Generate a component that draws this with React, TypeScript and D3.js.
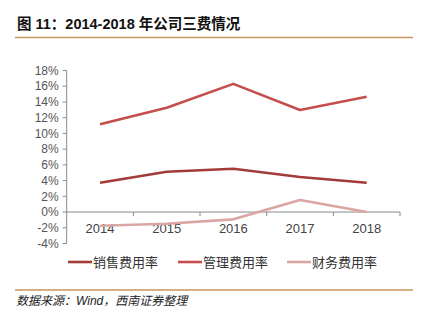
import React from "react";
import * as d3 from "d3";

const categories = ["2014", "2015", "2016", "2017", "2018"];
const seriesNames = ["销售费用率", "管理费用率", "财务费用率"];
const salesRate = [3.73, 5.13, 5.5, 4.45, 3.73];
const adminRate = [11.16, 13.27, 16.3, 12.98, 14.67];
const financeRate = [-1.74, -1.49, -0.93, 1.53, 0.0];
const yTicks = [-4, -2, 0, 2, 4, 6, 8, 10, 12, 14, 16, 18];
const colors = ["#A33B39", "#C44E4C", "#DBA5A4"];

export default function App() {
  const W = 425, H = 323;
  const left = 66.7, right = 400, top = 70.5, bottom = 243.5;
  const x = d3.scaleBand().domain(categories).range([left, right]);
  const y = d3.scaleLinear().domain([-4, 18]).range([bottom, top]);
  const line = d3
    .line<number>()
    .x((_, i) => (x(categories[i]) as number) + x.bandwidth() / 2)
    .y((d) => y(d));
  const data = [salesRate, adminRate, financeRate];
  const font = "'Liberation Sans', Arial, 'Noto Sans CJK SC', sans-serif";
  const legendX = [68, 178, 287];
  return (
    <svg width={W} height={H} style={{ position: "absolute", left: 0, top: 0, background: "#fff" }} fontFamily={font}>
      <text x={17} y={29} fontSize={14.5} fontWeight="bold" fill="#111" fontFamily="'Liberation Sans', 'Noto Sans CJK SC', sans-serif">
        图 11：2014-2018 年公司三费情况
      </text>
      <line x1={15} x2={413} y1={37.5} y2={37.5} stroke="#C9965A" strokeWidth={1.3} />
      {/* y axis */}
      <line x1={left} x2={left} y1={top} y2={bottom} stroke="#8a8a8a" strokeWidth={1} />
      {yTicks.map((t) => (
        <g key={t}>
          <line x1={left - 4} x2={left} y1={y(t)} y2={y(t)} stroke="#8a8a8a" />
          <text x={left - 8} y={y(t)} dy="0.35em" textAnchor="end" fontSize={12} fill="#555" fontFamily="'Liberation Sans Narrow', 'Liberation Sans', sans-serif">
            {t}%
          </text>
        </g>
      ))}
      {/* x axis at 0 */}
      <line x1={left} x2={right} y1={y(0)} y2={y(0)} stroke="#8a8a8a" />
      {categories.map((c) => (
        <line key={"xt" + c} x1={(x(c) as number) + x.bandwidth()} x2={(x(c) as number) + x.bandwidth()} y1={y(0)} y2={y(0) + 4} stroke="#8a8a8a" />
      ))}
      {categories.map((c) => (
        <text key={c} x={(x(c) as number) + x.bandwidth() / 2} y={228} dy="0.35em" textAnchor="middle" fontSize={13} fill="#444">
          {c}
        </text>
      ))}
      {data.map((d, i) => (
        <path key={i} d={line(d) || ""} fill="none" stroke={colors[i]} strokeWidth={2.6} strokeLinejoin="round" />
      ))}
      {/* legend */}
      {seriesNames.map((n, i) => (
        <g key={n}>
          <line x1={legendX[i]} x2={legendX[i] + 24} y1={262} y2={262} stroke={colors[i]} strokeWidth={2.6} />
          <text x={legendX[i] + 25} y={262} dy="0.35em" fontSize={13} fill="#333" fontFamily="'Noto Sans CJK SC', sans-serif">
            {n}
          </text>
        </g>
      ))}
      <line x1={15} x2={413} y1={290} y2={290} stroke="#C9965A" strokeWidth={1.3} />
      <text x={16} y={305} fontSize={12} fontStyle="italic" fill="#222" fontFamily="'Liberation Sans', 'Noto Sans CJK SC', sans-serif">
        数据来源：Wind，西南证券整理
      </text>
    </svg>
  );
}
